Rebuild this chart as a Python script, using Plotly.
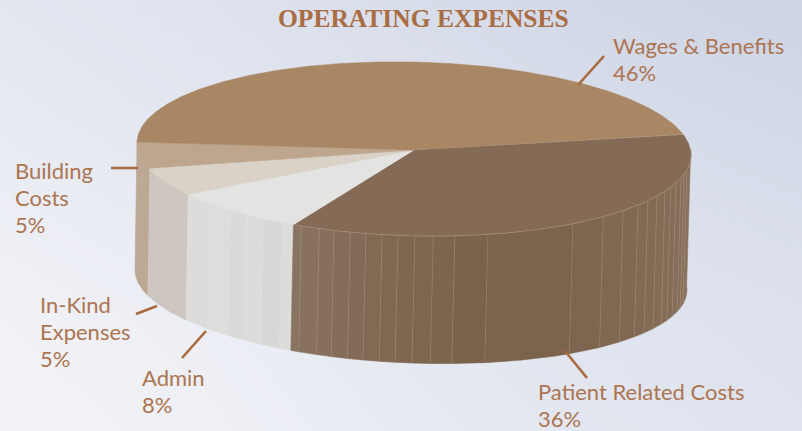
import numpy as np
import plotly.graph_objects as go

# --- data ---
categories = ["Patient Related Costs", "Admin", "In-Kind Expenses", "Building Costs", "Wages & Benefits"]
values = [36, 8, 5, 5, 46]
top_colors = ["#856B55", "#E3E3E2", "#DAD2C7", "#BEA68E", "#A98765"]
side_colors = ["#7F664F", "#DBDAD8", "#CEC6C0", "#BDA893", "#A98765"]
start_angle = -13.8

label_lines = [["Wages & Benefits", "46%"], ["Patient Related Costs", "36%"], ["Admin", "8%"],
               ["In-Kind", "Expenses", "5%"], ["Building", "Costs", "5%"]]
label_x = [613, 538, 142, 40, 15]
label_y = [54, 400, 386, 313, 179]
leaders = [((578, 85), (604, 56)), ((565, 351), (587, 378)), ((182, 358), (206, 331)),
           ((136, 314), (157, 306)), ((111, 168), (138, 168))]
patient_facets = [114, 110, 106.8, 103.3, 100, 96.6, 93.3, 89.8, 86, 81.5, 74.5, 55, 46.9, 41, 36,
                  32.4, 28.7, 25, 22, 18.9, 15.4, 12.8, 9.8]
admin_facets = [137.4, 131.6, 127, 123, 118.5]
admin_shades = ["#DDDCDA", "#D7D7D6", "#DDDCDA", "#DADAD9", "#DEDDDB", "#DEDCDB"]
patient_stops_t = [-3, 20, 45, 75, 95, 116]
patient_stops_rgb = [(139, 116, 96), (134, 109, 88), (127, 103, 80), (121, 97, 75), (128, 104, 82), (138, 116, 98)]
bg_z = [[0.42, 0.55, 0.72, 0.88, 1.00],
        [0.32, 0.45, 0.60, 0.75, 0.85],
        [0.20, 0.33, 0.50, 0.62, 0.72],
        [0.10, 0.20, 0.38, 0.52, 0.60],
        [0.05, 0.14, 0.30, 0.45, 0.55]]
bg_x = [0, 200, 400, 600, 802]
bg_y = [0, 108, 215, 323, 431]

TEXT = "#AD7450"
LINE = "#A96A3E"


def top(t):
    r = np.radians(t)
    return 414 + 277 * np.cos(r), 149 + 87 * np.sin(r) + 0.022 * 277 * np.cos(r)


def bottom(t):
    r = np.radians(t)
    return 411 + 276 * np.cos(r), 280 + 83 * np.sin(r) + 0.036 * 276 * np.cos(r)


fig = go.Figure()
fig.add_trace(go.Heatmap(x=bg_x, y=bg_y, z=bg_z, zsmooth="best", showscale=False, hoverinfo="skip",
                         colorscale=[[0, "#F4F5F9"], [1, "#CDD4E4"]], zmin=0, zmax=1))


def strip(t0, t1, color):
    ts = np.linspace(t0, t1, max(2, int(abs(t1 - t0) * 2) + 2))
    tx, ty = top(ts)
    bx, by = bottom(ts[::-1])
    fig.add_trace(go.Scatter(x=np.r_[tx, bx, tx[0]], y=np.r_[ty, by, ty[0]], mode="lines", fill="toself",
                             fillcolor=color, line=dict(color=color, width=0.6), hoverinfo="skip", showlegend=False))


# slice boundaries from the values
edges = start_angle + np.r_[0, np.cumsum(values)] * 3.6

# side walls
for i in [3, 2]:
    strip(edges[i], min(edges[i + 1], 183), side_colors[i])

admin_b = [edges[1]] + sorted(admin_facets) + [edges[2]]
for a, b, c in zip(admin_b[:-1], admin_b[1:], admin_shades):
    strip(a, b, c)

pat_b = [-3] + sorted(patient_facets) + [edges[1]]
for a, b in zip(pat_b[:-1], pat_b[1:]):
    m = (a + b) / 2
    rgb = [np.interp(m, patient_stops_t, [s[k] for s in patient_stops_rgb]) for k in range(3)]
    strip(a, b, "rgb(%d,%d,%d)" % tuple(rgb))

# facet seams
for t in patient_facets + admin_facets:
    x0, y0 = top(t)
    x1, y1 = bottom(t)
    col = "rgba(205,195,185,0.30)" if t in patient_facets else "rgba(240,238,235,0.30)"
    fig.add_trace(go.Scatter(x=[x0, x1], y=[y0, y1], mode="lines", line=dict(color=col, width=0.7),
                             hoverinfo="skip", showlegend=False))

# top faces
for i in range(len(values)):
    ts = np.linspace(edges[i], edges[i + 1], int(values[i] * 8) + 2)
    ex, ey = top(ts)
    fig.add_trace(go.Scatter(x=np.r_[414, ex, 414], y=np.r_[150, ey, 150], mode="lines", fill="toself",
                             fillcolor=top_colors[i], line=dict(color=top_colors[i], width=0.5),
                             hoverinfo="skip", showlegend=False, name=categories[i]))

# pale rim along the front of the patient slice
rim = np.linspace(edges[0] + 14, edges[1], 120)
rx, ry = top(rim)
fig.add_trace(go.Scatter(x=rx, y=ry, mode="lines", line=dict(color="rgba(190,165,140,0.55)", width=0.8),
                         hoverinfo="skip", showlegend=False))

# leader lines
for (a, b) in leaders:
    fig.add_trace(go.Scatter(x=[a[0], b[0]], y=[a[1], b[1]], mode="lines", line=dict(color=LINE, width=2.6),
                             hoverinfo="skip", showlegend=False))

# text
ann = [dict(x=276, y=18, text="<b>OPERATING EXPENSES</b>", showarrow=False, xanchor="left", yanchor="middle",
            font=dict(family="Liberation Serif", size=25.5, color="#A96D43"))]
for lines, x, y in zip(label_lines, label_x, label_y):
    for j, s in enumerate(lines):
        ann.append(dict(x=x, y=y + j * 27 - 9, text=s, showarrow=False, xanchor="left", yanchor="middle", xshift=-2,
                        font=dict(family="Lato", size=22, color=TEXT)))

fig.update_layout(width=802, height=431, margin=dict(l=0, r=0, t=0, b=0), showlegend=False,
                  plot_bgcolor="#E6E9F2", paper_bgcolor="#E6E9F2", annotations=ann,
                  xaxis=dict(range=[0, 802], visible=False, fixedrange=True),
                  yaxis=dict(range=[431, 0], visible=False, fixedrange=True))
fig.write_html("out.html", config=dict(displayModeBar=False),
               post_script="document.body.style.margin='0';document.body.style.overflow='hidden';")
